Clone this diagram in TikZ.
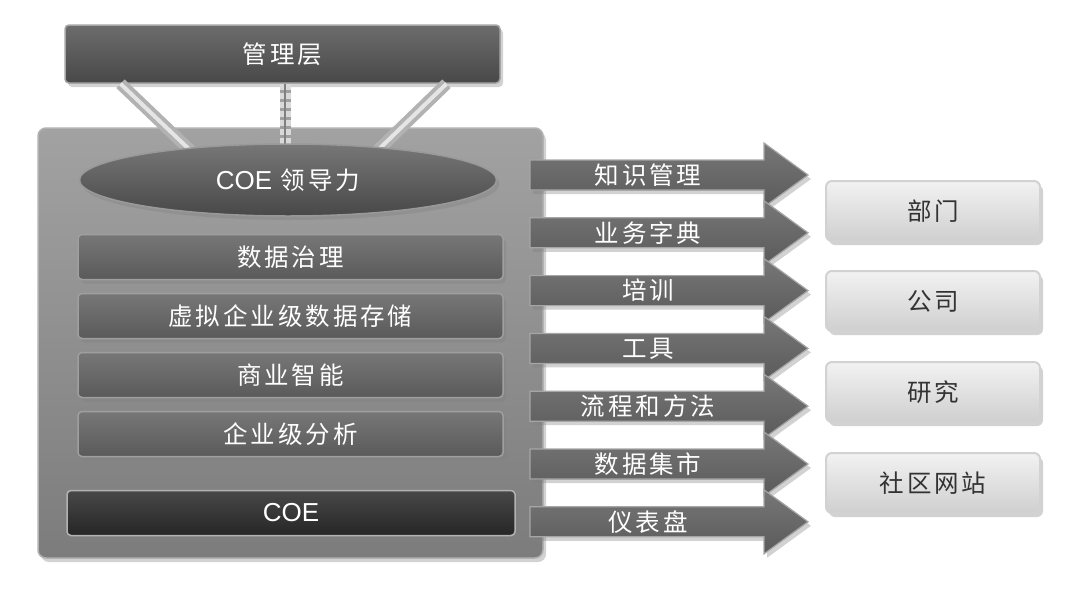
\documentclass[tikz,border=0pt]{standalone}
\usepackage{fontspec}
\newfontfamily\cjk[LetterSpace=12]{Noto Sans CJK SC}
\newfontfamily\lat{Liberation Sans}
\usetikzlibrary{shapes.geometric,shadows}

\definecolor{frameTop}{HTML}{A2A2A2}
\definecolor{frameBot}{HTML}{7C7C7C}
\definecolor{barTop}{HTML}{777777}
\definecolor{barBot}{HTML}{5A5A5A}
\definecolor{darkTop}{HTML}{484848}
\definecolor{darkBot}{HTML}{262626}
\definecolor{boxTop}{HTML}{F2F2F2}
\definecolor{boxBot}{HTML}{CFCFCF}

\tikzset{
  bigtext/.style={font=\cjk\fontsize{24.5pt}{28pt}\selectfont},
  softshadow/.style={drop shadow={opacity=0.35,shadow xshift=3pt,shadow yshift=-4pt}},
  layerbar/.style={bigtext, text=white, rounded corners=4pt, draw=gray!75, line width=1.5pt,
    top color=barTop, bottom color=barBot, minimum width=425pt, minimum height=45pt, softshadow},
  flowarrow/.style={draw=gray!70, line width=1.2pt, top color=barTop, bottom color=barBot, softshadow},
  arrowtext/.style={bigtext, text=white},
  target/.style={bigtext, text=black!80, rounded corners=6pt, draw=gray!35, line width=2pt,
    top color=boxTop, bottom color=boxBot, minimum width=214pt, minimum height=60pt, softshadow},
  strut/.style={line width=12pt, gray!60, line cap=butt}
}

\begin{document}
\begin{tikzpicture}[x=1pt,y=-1pt]
    \useasboundingbox[fill=white] (0,0) rectangle (1080,590);

    % container
    \node[rounded corners=8pt, draw=gray!60, line width=1.5pt, top color=frameTop, bottom color=frameBot,
      minimum width=505pt, minimum height=430pt, softshadow] (frame) at (290.5,343) {};

    % management and links
    \node[bigtext, text=white, rounded corners=4pt, draw=gray!70, line width=1.5pt, top color=darkTop!80!white,
      bottom color=darkTop, minimum width=435pt, minimum height=58pt, softshadow] (mgmt) at (282.5,54) {管理层};
    \coordinate (leadtop) at (288,152);
    \draw[strut] ([xshift=-162pt]mgmt.south) -- ([xshift=-96pt]leadtop);
    \draw[strut] ([xshift=164pt]mgmt.south) -- ([xshift=88pt]leadtop);
    \draw[strut, line width=4pt, gray!20] ([xshift=-162pt]mgmt.south) -- ([xshift=-96pt]leadtop);
    \draw[strut, line width=4pt, gray!20] ([xshift=164pt]mgmt.south) -- ([xshift=88pt]leadtop);
    \draw[line width=11pt, gray!75] ([xshift=2.5pt]mgmt.south) -- ([xshift=-3pt,yshift=4pt]leadtop);
    \draw[line width=11pt, white!85!black, dash pattern=on 6pt off 3pt] ([xshift=2.5pt]mgmt.south) -- ([xshift=-3pt,yshift=4pt]leadtop);
    \draw[line width=1.5pt, gray] ([xshift=2.5pt]mgmt.south) -- ([xshift=-3pt,yshift=4pt]leadtop);

    % layers
    \node[ellipse, bigtext, text=white, draw=gray!80, line width=1.5pt, top color=barTop, bottom color=darkTop,
      minimum width=417pt, minimum height=72pt, softshadow] (lead) at (288,180) {{\lat\fontsize{26pt}{28pt}\selectfont COE} 领导力};
    \node[layerbar] (gov) at (290.5,257) {数据治理};
    \node[layerbar] (store) at (290.5,316) {虚拟企业级数据存储};
    \node[layerbar] (bi) at (290.5,375) {商业智能};
    \node[layerbar] (ana) at (290.5,434) {企业级分析};
    \node[layerbar, minimum width=448pt, top color=darkTop, bottom color=darkBot, draw=gray!60] (coe) at (291,513) {\lat\fontsize{26pt}{28pt}\selectfont COE};

    % deliverables
    \foreach \lab [count=\i] in {知识管理,业务字典,培训,工具,流程和方法,数据集市,仪表盘} {
      \pgfmathsetmacro\yc{175+57.8*(\i-1)}
      \filldraw[flowarrow] (530,\yc-15) -- (764,\yc-15) -- (764,\yc-32) -- (808,\yc)
        -- (764,\yc+32) -- (764,\yc+15) -- (530,\yc+15) -- cycle;
      \node[arrowtext] (arr\i) at (648,\yc) {\lab};
    }

    % audiences
    \node[target] (dept) at (933,211) {部门};
    \node[target] (corp) at (933,301) {公司};
    \node[target] (res) at (933,392) {研究};
    \node[target] (web) at (933,483) {社区网站};
\end{tikzpicture}
\end{document}
